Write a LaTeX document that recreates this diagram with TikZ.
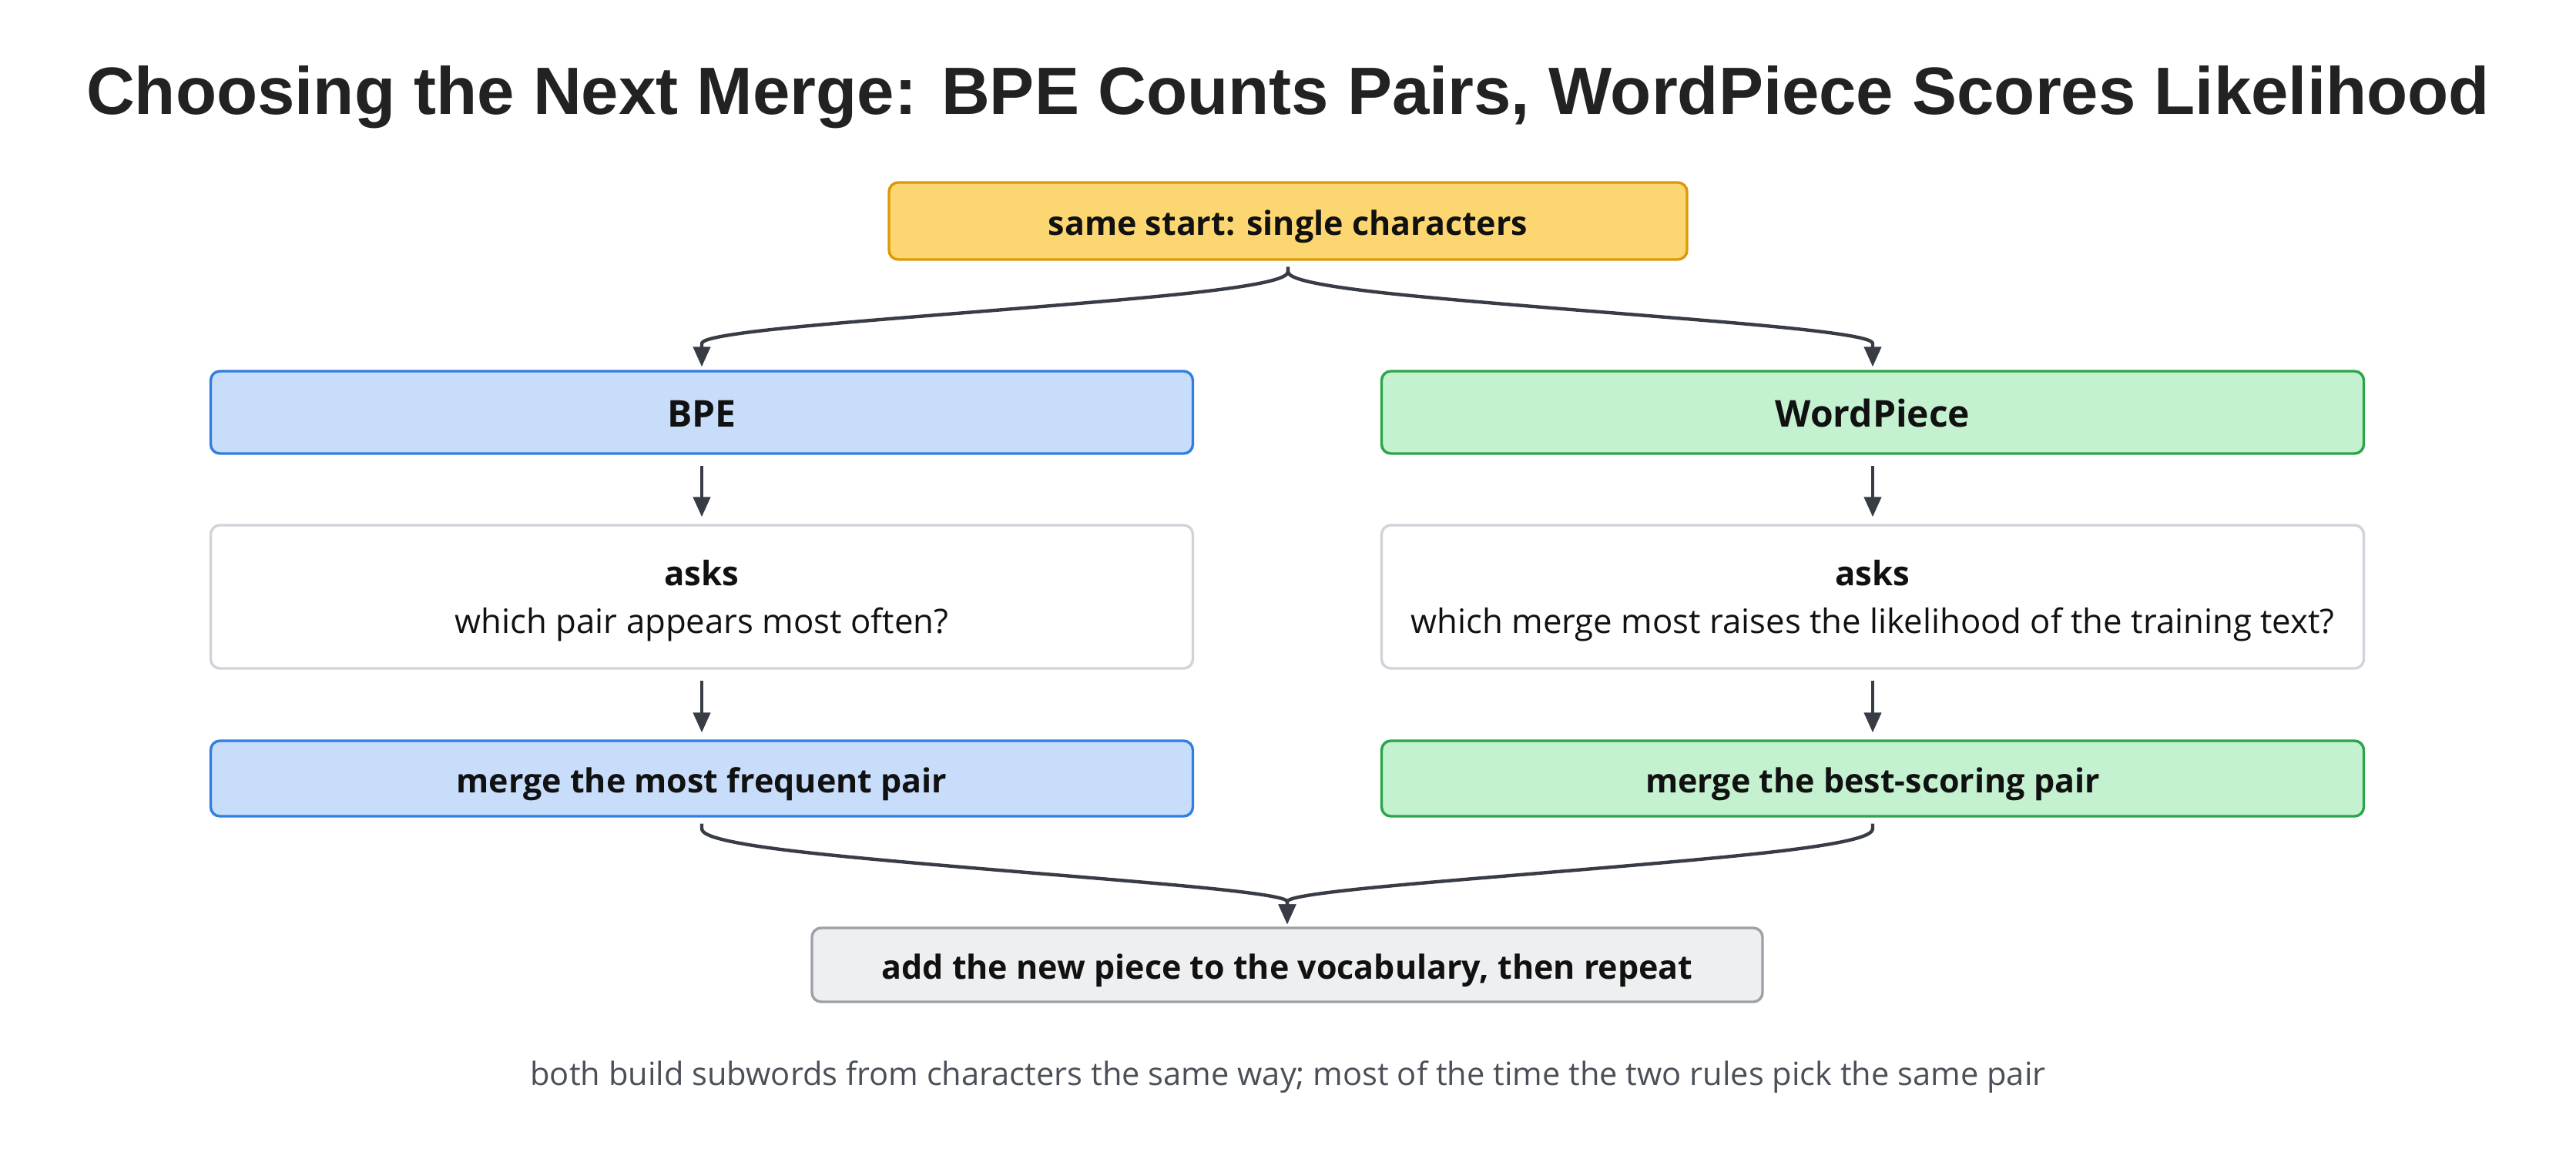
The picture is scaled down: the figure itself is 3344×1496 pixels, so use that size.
\documentclass[tikz,border=0pt]{standalone}
\usepackage{fontspec}
\IfFontExistsTF{Noto Sans Bold}
  {\setmainfont{Noto Sans}[BoldFont={Noto Sans Bold}]}
  {\setmainfont{Open Sans}[BoldFont={Open Sans Bold}]}
\newfontfamily\titlefont{Liberation Sans}[BoldFont={Liberation Sans Bold}]
\usetikzlibrary{calc,arrows.meta}
\definecolor{ttl}{HTML}{222222}
\definecolor{txt}{HTML}{111111}
\definecolor{foot}{HTML}{4A4F58}
\definecolor{arrc}{HTML}{383C45}
\definecolor{yfill}{HTML}{FCD671}
\definecolor{ydraw}{HTML}{D99A06}
\definecolor{bfill}{HTML}{C8DDFA}
\definecolor{bdraw}{HTML}{2F7FE0}
\definecolor{gfill}{HTML}{C4F1CF}
\definecolor{gdraw}{HTML}{2AA54A}
\definecolor{wdraw}{HTML}{D0D3D9}
\definecolor{nfill}{HTML}{EEEFF1}
\definecolor{ndraw}{HTML}{9CA1A8}
\tikzset{
  box/.style={rectangle, rounded corners=12pt, line width=3.4pt, align=center,
    text=txt, inner sep=0pt, font=\fontsize{43.7}{62}\selectfont},
  boldbox/.style={box, font=\fontsize{43}{62}\selectfont\bfseries, text height=41pt, text depth=4pt},
  headbox/.style={box, font=\fontsize{48}{52}\selectfont\bfseries, text height=42pt, text depth=4pt},
  arr/.style={draw=arrc, line width=4.4pt, -{Triangle[length=26pt,width=22pt]}},
  curv/.style={draw=arrc, line width=4.4pt},
}
% d3-style basis curve: start, tip, fractions of the drop for the two inner points
\newcommand{\bcurve}[4]{%
  \coordinate (bS) at (#1);
  \coordinate (bE) at ([yshift=26pt]#2);
  \coordinate (bM1) at ($(bS)!#3!(bE)$);
  \coordinate (bM2) at ($(bS)!#4!(bE)$);
  \coordinate (bP1) at (bS |- bM1);
  \coordinate (bP2) at (bE |- bM2);
  \draw[curv] (bS) -- ($(bS)!0.16667!(bP1)$)
    .. controls ($(bS)!0.33333!(bP1)$) and ($(bS)!0.66667!(bP1)$) ..
    ($0.66667*(bP1)+0.16667*(bS)+0.16667*(bP2)$)
    .. controls ($(bP1)!0.33333!(bP2)$) and ($(bP1)!0.66667!(bP2)$) ..
    ($0.66667*(bP2)+0.16667*(bP1)+0.16667*(bE)$)
    .. controls ($(bP2)!0.33333!(bE)$) and ($(bP2)!0.66667!(bE)$) ..
    ($(bP2)!0.83333!(bE)$) -- (bE);
  \draw[arr] ([yshift=3pt]bE) -- (#2);
}
\begin{document}
\begin{tikzpicture}[x=1pt,y=-1pt]
\useasboundingbox[fill=white] (0,0) rectangle (3344,1496);
\node[text=ttl, font=\titlefont\fontsize{87}{92}\selectfont\bfseries] (title) at (1672,126)
  {Choosing the Next Merge: BPE Counts Pairs, WordPiece Scores Likelihood};
\node[boldbox, fill=yfill, draw=ydraw, minimum width=1036pt, minimum height=100pt] (top) at (1672,287) {same start: single characters};
\node[headbox, fill=bfill, draw=bdraw, minimum width=1275pt, minimum height=107pt] (bpe) at (911,535.5) {BPE};
\node[headbox, fill=gfill, draw=gdraw, minimum width=1275pt, minimum height=107pt] (wp) at (2431,535.5) {WordPiece};
\node[box, fill=white, draw=wdraw, minimum width=1275pt, minimum height=186pt] (askl) at (911,775) {\rule{0pt}{44pt}\textbf{asks}\\which pair appears most often?};
\node[box, fill=white, draw=wdraw, minimum width=1275pt, minimum height=186pt] (askr) at (2431,775) {\rule{0pt}{44pt}\textbf{asks}\\which merge most raises the likelihood of the training text?};
\node[boldbox, fill=bfill, draw=bdraw, minimum width=1275pt, minimum height=98pt] (mergel) at (911,1011) {merge the most frequent pair};
\node[boldbox, fill=gfill, draw=gdraw, minimum width=1275pt, minimum height=98pt] (merger) at (2431,1011) {merge the best-scoring pair};
\node[boldbox, fill=nfill, draw=ndraw, minimum width=1234pt, minimum height=96pt] (final) at (1671,1253) {add the new piece to the vocabulary, then repeat};
\node[text=foot, font=\fontsize{41.6}{46}\selectfont] (note) at (1672,1399) {both build subwords from characters the same way; most of the time the two rules pick the same pair};
% split curves
\coordinate (ts) at ([yshift=-8pt]top.south);
\coordinate (bt) at ([yshift=4pt]bpe.north);
\coordinate (wt) at ([yshift=4pt]wp.north);
\bcurve{ts}{bt}{0.29}{0.80}
\bcurve{ts}{wt}{0.29}{0.80}
% straight arrows
\draw[arr] ([yshift=-14pt]bpe.south) -- ([yshift=9pt]askl.north);
\draw[arr] ([yshift=-14pt]wp.south) -- ([yshift=9pt]askr.north);
\draw[arr] ([yshift=-14pt]askl.south) -- ([yshift=9pt]mergel.north);
\draw[arr] ([yshift=-14pt]askr.south) -- ([yshift=9pt]merger.north);
% merge curves
\coordinate (ls) at ([yshift=-8pt]mergel.south);
\coordinate (rs) at ([yshift=-8pt]merger.south);
\coordinate (ft) at ([yshift=3pt]final.north);
\bcurve{ls}{ft}{0.31}{0.84}
\bcurve{rs}{ft}{0.31}{0.84}
\end{tikzpicture}
\end{document}
